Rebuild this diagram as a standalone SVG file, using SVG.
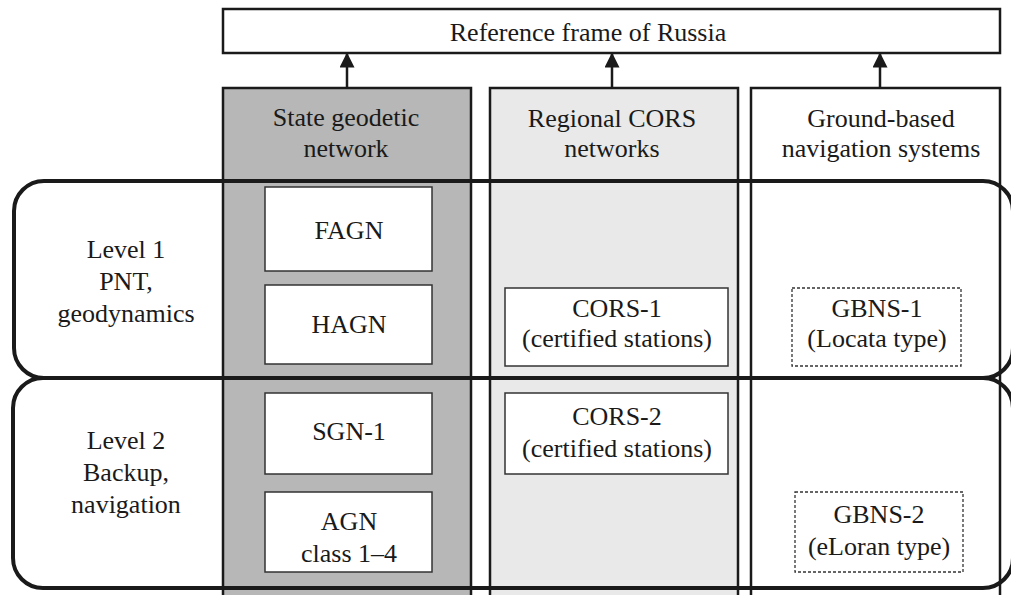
<svg xmlns="http://www.w3.org/2000/svg" width="1011" height="595" viewBox="0 0 1011 595">
<style>
text{font-family:"Liberation Serif","Times New Roman",serif;font-size:26px;fill:#1a1a1a;text-anchor:middle}
.col{stroke:#1a1a1a;stroke-width:2.5}
.lvl{fill:none;stroke:#1a1a1a;stroke-width:4}
.box{fill:#fff;stroke:#333;stroke-width:1.5}
.dash{fill:#fff;stroke:#333;stroke-width:1.3;stroke-dasharray:3 2}
.conn{stroke:#1a1a1a;stroke-width:2.5;fill:none}
</style>
<defs>
<marker id="ah" viewBox="0 0 10 10" refX="9" refY="5" markerWidth="6.4" markerHeight="6" orient="auto" markerUnits="strokeWidth">
<path d="M0,0 L10,5 L0,10 z" fill="#1a1a1a"/>
</marker>
</defs>
<g id="ref-frame">
<rect x="223" y="9" width="777" height="44" fill="#fff" stroke="#1a1a1a" stroke-width="2.5"/>
<text x="588" y="41">Reference frame of Russia</text>
</g>
<g id="col-state">
<rect class="col" x="223" y="88" width="248" height="520" fill="#b6b7b6"/>
<text x="346" y="126">State geodetic</text>
<text x="346" y="157">network</text>
</g>
<g id="col-cors">
<rect class="col" x="490" y="88" width="248" height="520" fill="#e8e9e8"/>
<text x="612" y="127">Regional CORS</text>
<text x="612" y="157">networks</text>
</g>
<g id="col-gbns">
<rect class="col" x="751" y="88" width="249" height="520" fill="#fff"/>
<text x="881" y="127">Ground-based</text>
<text x="881" y="157">navigation systems</text>
</g>
<g id="connectors">
<line class="conn" x1="347" y1="88" x2="347" y2="54" marker-end="url(#ah)"/>
<line class="conn" x1="612" y1="88" x2="612" y2="54" marker-end="url(#ah)"/>
<line class="conn" x1="880" y1="88" x2="880" y2="54" marker-end="url(#ah)"/>
</g>
<g id="level1">
<rect class="lvl" x="14" y="181" width="999" height="197" rx="30" ry="30"/>
<text x="126" y="258">Level 1</text>
<text x="126" y="290">PNT,</text>
<text x="126" y="322">geodynamics</text>
</g>
<g id="level2">
<rect class="lvl" x="13" y="378" width="1000" height="210" rx="30" ry="30"/>
<text x="126" y="449">Level 2</text>
<text x="126" y="481">Backup,</text>
<text x="126" y="513">navigation</text>
</g>
<g id="fagn">
<rect class="box" x="265" y="187" width="167" height="84"/>
<text x="349" y="239">FAGN</text>
</g>
<g id="hagn">
<rect class="box" x="265" y="285" width="167" height="79"/>
<text x="349" y="333">HAGN</text>
</g>
<g id="sgn1">
<rect class="box" x="265" y="393" width="167" height="81"/>
<text x="349" y="440">SGN-1</text>
</g>
<g id="agn">
<rect class="box" x="265" y="492" width="167" height="80"/>
<text x="349" y="530">AGN</text>
<text x="349" y="562">class 1–4</text>
</g>
<g id="cors1">
<rect class="box" x="505" y="288" width="223" height="78"/>
<text x="617" y="317">CORS-1</text>
<text x="617" y="347">(certified stations)</text>
</g>
<g id="cors2">
<rect class="box" x="505" y="393" width="223" height="81"/>
<text x="617" y="425">CORS-2</text>
<text x="617" y="457">(certified stations)</text>
</g>
<g id="gbns1">
<rect class="dash" x="792" y="288" width="169" height="78"/>
<text x="877" y="317">GBNS-1</text>
<text x="877" y="347">(Locata type)</text>
</g>
<g id="gbns2">
<rect class="dash" x="795" y="492" width="168" height="80"/>
<text x="879" y="523">GBNS-2</text>
<text x="879" y="555">(eLoran type)</text>
</g>
</svg>
